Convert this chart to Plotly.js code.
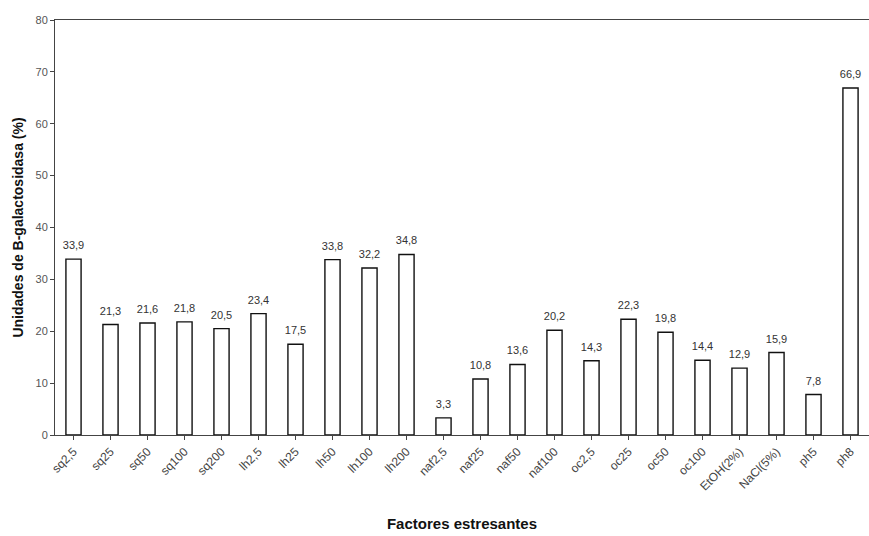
<!DOCTYPE html>
<html><head><meta charset="utf-8">
<script src="https://cdn.plot.ly/plotly-3.0.1.min.js"></script>
<style>html,body{margin:0;padding:0;background:#fff}#c{width:869px;height:536px}</style>
</head><body><div id="c"></div>
<script>
const categories = ["sq2,5","sq25","sq50","sq100","sq200","lh2,5","lh25","lh50","lh100","lh200","naf2,5","naf25","naf50","naf100","oc2,5","oc25","oc50","oc100","EtOH(2%)","NaCl(5%)","ph5","ph8"];
const values = [33.9,21.3,21.6,21.8,20.5,23.4,17.5,33.8,32.2,34.8,3.3,10.8,13.6,20.2,14.3,22.3,19.8,14.4,12.9,15.9,7.8,66.9];
const yTicks = [0,10,20,30,40,50,60,70,80];
const labels = values.map(v => v.toFixed(1).replace('.', ','));

Plotly.newPlot('c', [{
  type: 'bar', x: categories, y: values,
  marker: {color: '#ffffff', line: {color: '#111', width: 1.4}},
  hoverinfo: 'none'
}, {
  type: 'scatter', mode: 'text+markers', x: categories, y: values,
  marker: {size: 10, color: 'rgba(0,0,0,0)'},
  text: labels, textposition: 'top center', cliponaxis: false,
  textfont: {family: 'Liberation Sans, Arial, sans-serif', size: 11, color: '#333'},
  hoverinfo: 'none'
}], {
  width: 869, height: 536,
  margin: {l: 55, r: 0, t: 20, b: 101},
  bargap: 0.59,
  paper_bgcolor: '#fff', plot_bgcolor: '#fff',
  font: {family: 'Liberation Sans, Arial, sans-serif', color: '#444'},
  showlegend: false,
  xaxis: {
    range: [-0.5, categories.length - 0.5],
    tickangle: -45, tickfont: {size: 12, color: '#444'},
    showline: true, linecolor: '#444', linewidth: 1, mirror: true,
    ticks: 'outside', ticklen: 4, tickcolor: '#444',
    title: {text: '<b>Factores estresantes</b>', font: {size: 15, color: '#111'}, standoff: 26}
  },
  yaxis: {
    range: [0, 80], tickvals: yTicks, ticktext: yTicks.map(String),
    tickfont: {size: 11, color: '#555'},
    showline: true, linecolor: '#444', linewidth: 1,
    ticks: 'outside', ticklen: 4, tickcolor: '#444',
    showgrid: false, zeroline: false,
    title: {text: '<b>Unidades de B-galactosidasa (%)</b>', font: {size: 14, color: '#111'}, standoff: 8}
  }
}, {staticPlot: true});
</script></body></html>
